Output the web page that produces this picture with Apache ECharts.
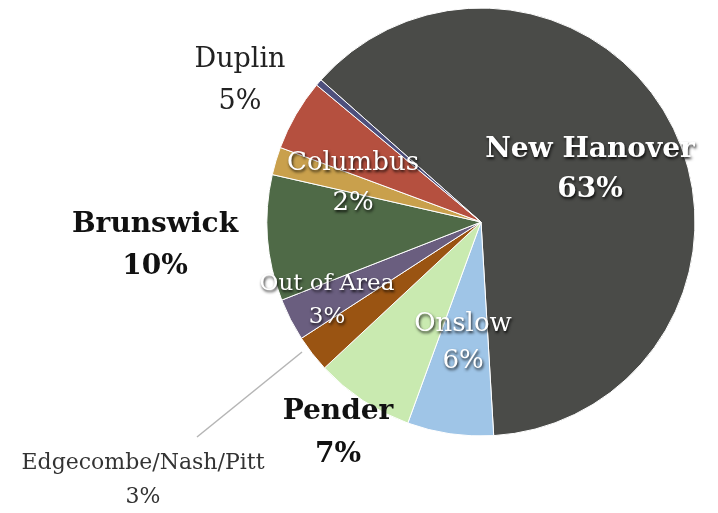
<!DOCTYPE html>
<html>
<head>
<meta charset="utf-8">
<script src="https://cdn.jsdelivr.net/npm/echarts@6/dist/echarts.min.js"></script>
<style>
  html, body { margin: 0; padding: 0; background: #ffffff; }
  #main { width: 718px; height: 513px; }
</style>
</head>
<body>
<div id="main"></div>
<script>
// ---- data ----
const categories = ['New Hanover', 'Onslow', 'Pender', 'Edgecombe/Nash/Pitt', 'Out of Area', 'Brunswick', 'Columbus', 'Duplin', 'Other'];
const values = [62.5, 6.5, 7.5, 2.8, 3.2, 9.5, 2.1, 5.4, 0.5];
const percentLabels = ['63%', '6%', '7%', '3%', '3%', '10%', '2%', '5%', ''];

// ---- styling ----
const colors = ['#4a4b48', '#9fc5e7', '#c9eab0', '#9a5412', '#6a5e7f', '#4f6a47', '#c9a04c', '#b5503f', '#4d4f7c'];
const SERIF = '"DejaVu Serif", "Liberation Serif", serif';
const whiteShadow = { color: '#ffffff', textShadowColor: 'rgba(0,0,0,0.85)', textShadowBlur: 3, textShadowOffsetX: 1, textShadowOffsetY: 2 };
const labelStyles = [
  Object.assign({ fontSize: 28, fontWeight: 'bold', lineHeight: 40 }, whiteShadow),
  Object.assign({ fontSize: 26, fontWeight: 'normal', lineHeight: 37 }, whiteShadow),
  { color: '#111111', fontSize: 28, fontWeight: 'bold', lineHeight: 43 },
  { color: '#333333', fontSize: 22, fontWeight: 'normal', lineHeight: 34 },
  Object.assign({ fontSize: 23, fontWeight: 'normal', lineHeight: 33 }, whiteShadow),
  { color: '#111111', fontSize: 28, fontWeight: 'bold', lineHeight: 42 },
  Object.assign({ fontSize: 26, fontWeight: 'normal', lineHeight: 40 }, whiteShadow),
  { color: '#222222', fontSize: 27, fontWeight: 'normal', lineHeight: 42 },
  null
];
// label block centres (px)
const labelPos = [[590, 170], [463, 343], [338, 433], [143, 480], [327, 301], [155, 246], [353, 183], [240, 81], [0, 0]];
const edgeLine = [[302, 352], [197, 437], [197, 437]];

const chart = echarts.init(document.getElementById('main'), null, { renderer: 'canvas' });

const seriesData = categories.map((name, i) => {
  const item = {
    name: name,
    value: values[i],
    itemStyle: { color: colors[i] }
  };
  if (labelStyles[i]) {
    item.label = Object.assign({
      show: true,
      formatter: name + '\n' + percentLabels[i],
      fontFamily: SERIF,
      align: 'center'
    }, labelStyles[i]);
  } else {
    item.label = { show: false };
  }
  item.labelLine = { show: i === 3, lineStyle: { color: '#b5b5b5', width: 1.5 } };
  return item;
});

chart.setOption({
  backgroundColor: '#ffffff',
  animation: false,
  series: [{
    type: 'pie',
    center: [481, 222],
    radius: [0, 214],
    startAngle: 138.4,
    clockwise: true,
    avoidLabelOverlap: false,
    silent: true,
    itemStyle: { borderColor: '#ffffff', borderWidth: 1 },
    label: { position: 'outside' },
    labelLine: { show: false },
    labelLayout: function (params) {
      const i = params.dataIndex;
      const p = labelPos[i];
      const res = { x: p[0], y: p[1], align: 'center', verticalAlign: 'middle' };
      if (i === 3) res.labelLinePoints = edgeLine;
      return res;
    },
    emphasis: { disabled: true },
    data: seriesData
  }]
});
</script>
</body>
</html>
